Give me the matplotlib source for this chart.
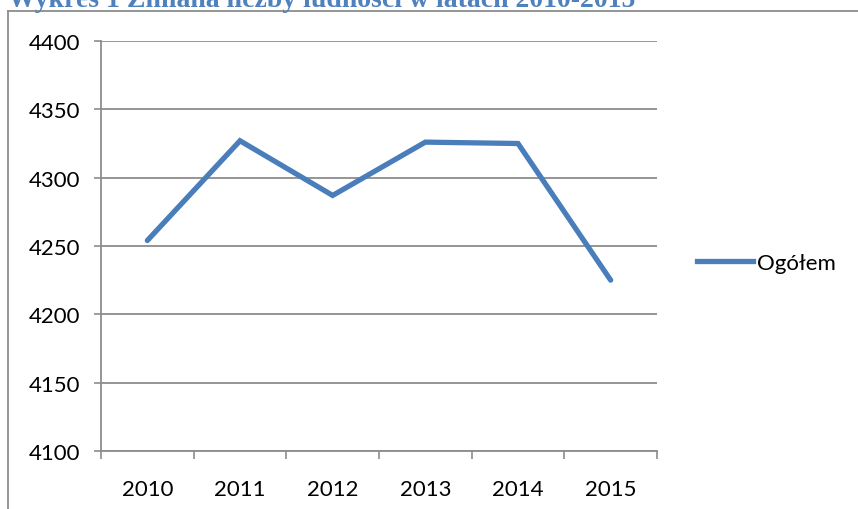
import matplotlib.pyplot as plt
from matplotlib.lines import Line2D

# Data
years = [2010, 2011, 2012, 2013, 2014, 2015]
ogolem = [4254, 4327, 4287, 4326, 4325, 4225]
y_ticks = [4100, 4150, 4200, 4250, 4300, 4350, 4400]

title = 'Wykres 1 Zmiana liczby ludności w latach 2010-2015'
series_label = 'Ogółem'

line_color = '#4A7EBB'
grid_color = '#8C8C8C'

fig = plt.figure(figsize=(8.58, 5.10), dpi=100)

# Axes placed in pixel coords of the 858x510 picture
W, H = 858, 510
left, right, top, bottom = 101, 657, 42, 452
ax = fig.add_axes([left / W, 1 - bottom / H, (right - left) / W, (bottom - top) / H])

x = list(range(len(years)))
ax.plot(x, ogolem, color=line_color, linewidth=3.8, solid_capstyle='round',
        solid_joinstyle='miter')

ax.set_xlim(-0.5, len(years) - 0.5)
ax.set_ylim(4100, 4400)
ax.set_yticks(y_ticks)
ax.set_yticklabels([str(v) for v in y_ticks])

# Category labels between boundary ticks, Excel style
ax.set_xticks([i - 0.5 for i in range(len(years) + 1)])
ax.set_xticklabels([])
ax.set_xticks(x, minor=True)
ax.set_xticklabels([str(y) for y in years], minor=True)
ax.tick_params(axis='x', which='minor', length=0, pad=20, labelsize=16)
ax.tick_params(axis='x', which='major', length=6, color=grid_color, width=1.2)
ax.tick_params(axis='y', length=5, color=grid_color, width=1.2, pad=10, labelsize=16)
for lab in ax.get_xticklabels(minor=True) + ax.get_yticklabels():
    lab.set_fontfamily('Lato')

ax.grid(axis='y', color=grid_color, linewidth=1.3)
ax.set_axisbelow(True)
for side in ['top', 'right']:
    ax.spines[side].set_visible(False)
for side in ['left', 'bottom']:
    ax.spines[side].set_color(grid_color)
    ax.spines[side].set_linewidth(1.3)

# Legend on the right
handle = Line2D([0], [0], color=line_color, linewidth=3.8)
leg = fig.legend([handle], [series_label], loc='center left',
                 bbox_to_anchor=(697 / W, 1 - 264 / H), frameon=False,
                 prop={'family': 'Lato', 'size': 16}, handlelength=2.5,
                 handletextpad=0.2, borderpad=0, borderaxespad=0)

# Outer frame (left and top edges)
fig.add_artist(Line2D([8 / W, 8 / W], [0, 1 - 12 / H], color=grid_color, linewidth=1.3))
fig.add_artist(Line2D([8 / W, 1], [1 - 12 / H, 1 - 12 / H], color=grid_color, linewidth=1.3))

# Clipped caption at the top
fig.text(8 / W, 1 - 7 / H, title, color='#4F81BD', fontsize=20, fontweight='bold',
         family='Liberation Serif', ha='left', va='baseline')

fig.savefig('out.png', dpi=100)
